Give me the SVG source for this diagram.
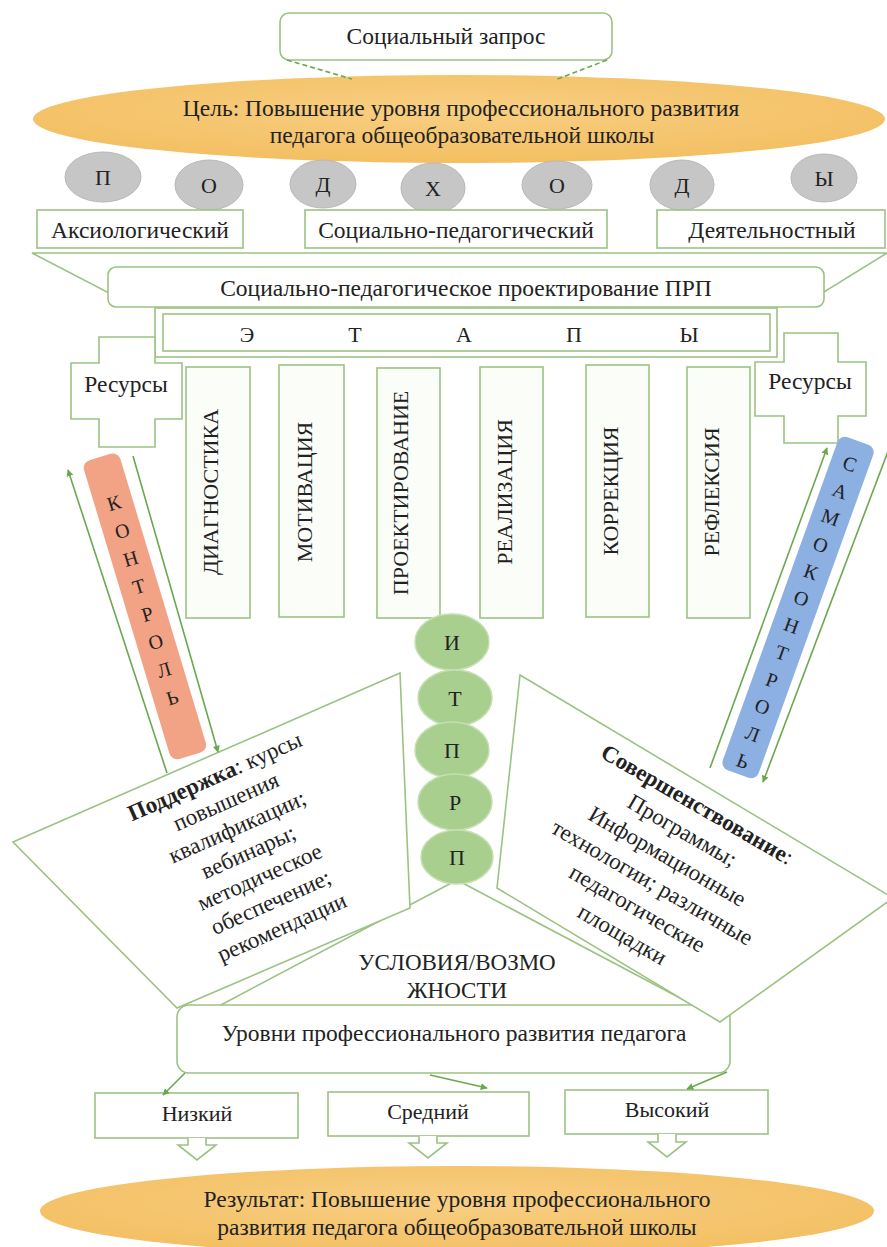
<svg xmlns="http://www.w3.org/2000/svg" width="887" height="1247" viewBox="0 0 887 1247" font-family="'Liberation Serif', 'Times New Roman', Tinos, 'DejaVu Serif', serif">
<defs>
<style>
text{font-family:"Liberation Serif","Times New Roman",Tinos,"DejaVu Serif",serif;font-size:23.5px;fill:#222222;}
.c{text-anchor:middle;}
.s22{font-size:22px;}
.q{font-size:23px;}
.box{fill:#ffffff;stroke:#9cc283;stroke-width:1.6;}
.stage{fill:#fbfdf8;stroke:#9cc283;stroke-width:1.6;}
.gray{fill:#c6c6c6;stroke:#b8b8b8;stroke-width:1;}
.green{fill:#a9cf8f;stroke:#c4dfb1;stroke-width:1.5;}
.ln{fill:none;stroke:#6aa84f;stroke-width:1.6;}
.dash{fill:none;stroke:#6aa84f;stroke-width:1.6;stroke-dasharray:5 3;}
.bl{font-size:20px;}
.b{font-weight:bold;}
</style>
<marker id="ah" viewBox="0 0 10 10" refX="9" refY="5" markerWidth="7" markerHeight="7" orient="auto" markerUnits="userSpaceOnUse">
<path d="M0,0 L10,5 L0,10 z" fill="#6aa84f"/>
</marker>
<radialGradient id="gold" cx="50%" cy="40%" r="60%">
<stop offset="0" stop-color="#f8cf83"/>
<stop offset="1" stop-color="#f3bf62"/>
</radialGradient>
</defs>

<g id="result">
<ellipse cx="457" cy="1211" rx="417" ry="45" fill="url(#gold)"/>
<text class="c" x="457" y="1207">Результат: Повышение уровня профессионального</text>
<text class="c" x="457" y="1235">развития педагога общеобразовательной школы</text>
</g>

<g id="goal">
<ellipse cx="459" cy="119" rx="426" ry="44" fill="url(#gold)"/>
<text class="c" x="461" y="116">Цель: Повышение уровня профессионального развития</text>
<text class="c" x="462" y="143">педагога общеобразовательной школы</text>
</g>

<g id="social-request">
<rect class="box" x="280" y="13" width="332" height="47" rx="9"/>
<text class="c" x="446" y="44">Социальный запрос</text>
</g>

<g id="approach-letters">
<ellipse class="gray" cx="103" cy="177" rx="38" ry="25"/><text class="c s22" x="103" y="185">П</text>
<ellipse class="gray" cx="209" cy="185" rx="34" ry="25"/><text class="c s22" x="209" y="193">О</text>
<ellipse class="gray" cx="323" cy="184" rx="33" ry="24"/><text class="c s22" x="323" y="192">Д</text>
<ellipse class="gray" cx="433" cy="188" rx="32" ry="25"/><text class="c s22" x="433" y="196">Х</text>
<ellipse class="gray" cx="557" cy="185" rx="35" ry="24"/><text class="c s22" x="557" y="193">О</text>
<ellipse class="gray" cx="682" cy="185" rx="32" ry="25"/><text class="c s22" x="682" y="193">Д</text>
<ellipse class="gray" cx="824" cy="178" rx="33" ry="24"/><text class="c s22" x="824" y="186">Ы</text>
</g>

<g id="bracket">
<polygon class="box" points="32,253 887,253 824,292 107,292"/>
</g>

<g id="approach-axio">
<rect class="box" x="37" y="210" width="206" height="38"/>
<text class="c" x="140" y="238">Аксиологический</text>
</g>
<g id="approach-social">
<rect class="box" x="305" y="210" width="302" height="38"/>
<text class="c" x="456" y="238">Социально-педагогический</text>
</g>
<g id="approach-activity">
<rect class="box" x="657" y="210" width="228" height="38"/>
<text class="c" x="772" y="238">Деятельностный</text>
</g>

<g id="design">
<rect class="box" x="108" y="267" width="716" height="40" rx="8"/>
<text class="c" x="466" y="296">Социально-педагогическое проектирование ПРП</text>
</g>

<g id="etapy">
<rect class="box" x="155" y="308" width="622" height="49"/>
<rect class="box" x="163" y="314" width="607" height="37"/>
<text class="c s22" x="247" y="342">Э</text>
<text class="c s22" x="355" y="342">Т</text>
<text class="c s22" x="464" y="342">А</text>
<text class="c s22" x="574" y="342">П</text>
<text class="c s22" x="689" y="342">Ы</text>
</g>

<g id="resources-left">
<path class="box" d="M99,337 H155 V363 H182 V419 H155 V447 H99 V419 H71 V363 H99 Z"/>
<text class="c" x="126" y="392">Ресурсы</text>
</g>
<g id="resources-right">
<path class="box" d="M784,333 H838 V362 H866 V416 H838 V443 H784 V416 H755 V362 H784 Z"/>
<text class="c" x="810" y="389">Ресурсы</text>
</g>

<g id="stage-diag">
<rect class="stage" x="186" y="367" width="64" height="251"/>
<text class="c s22" transform="translate(218,492) rotate(-90)">ДИАГНОСТИКА</text>
</g>
<g id="stage-motiv">
<rect class="stage" x="279" y="365" width="65" height="252"/>
<text class="c s22" transform="translate(312,492) rotate(-90)">МОТИВАЦИЯ</text>
</g>
<g id="stage-proj">
<rect class="stage" x="377" y="368" width="63" height="250"/>
<text class="c s22" transform="translate(408,493) rotate(-90)">ПРОЕКТИРОВАНИЕ</text>
</g>
<g id="stage-real">
<rect class="stage" x="480" y="367" width="63" height="251"/>
<text class="c s22" transform="translate(512,492) rotate(-90)">РЕАЛИЗАЦИЯ</text>
</g>
<g id="stage-corr">
<rect class="stage" x="586" y="365" width="63" height="252"/>
<text class="c s22" transform="translate(618,491) rotate(-90)">КОРРЕКЦИЯ</text>
</g>
<g id="stage-refl">
<rect class="stage" x="687" y="367" width="63" height="251"/>
<text class="c s22" transform="translate(719,492) rotate(-90)">РЕФЛЕКСИЯ</text>
</g>

<g id="control" transform="translate(100,457) rotate(-16.75)">
<rect x="-19" y="0" width="38" height="312" rx="8" fill="#f2a285"/>
<text class="c bl" x="0" y="55">К</text>
<text class="c bl" x="0" y="84">О</text>
<text class="c bl" x="0" y="113">Н</text>
<text class="c bl" x="0" y="142">Т</text>
<text class="c bl" x="0" y="171">Р</text>
<text class="c bl" x="0" y="200">О</text>
<text class="c bl" x="0" y="229">Л</text>
<text class="c bl" x="0" y="258">Ь</text>
</g>

<g id="self-control" transform="translate(858,441) rotate(19.8)">
<rect x="-19" y="0" width="38" height="354" rx="8" fill="#8db0e2"/>
<text class="c bl" x="0" y="31">С</text>
<text class="c bl" x="0" y="60">А</text>
<text class="c bl" x="0" y="88">М</text>
<text class="c bl" x="0" y="117">О</text>
<text class="c bl" x="0" y="146">К</text>
<text class="c bl" x="0" y="174">О</text>
<text class="c bl" x="0" y="203">Н</text>
<text class="c bl" x="0" y="232">Т</text>
<text class="c bl" x="0" y="261">Р</text>
<text class="c bl" x="0" y="289">О</text>
<text class="c bl" x="0" y="318">Л</text>
<text class="c bl" x="0" y="347">Ь</text>
</g>

<g id="conditions">
<polygon class="box" points="457,880 217,1007 697,1007"/>
<text class="c q" x="457" y="970">УСЛОВИЯ/ВОЗМО</text>
<text class="c q" x="457" y="998">ЖНОСТИ</text>
</g>

<g id="itprp">
<ellipse class="green" cx="452" cy="642" rx="37" ry="28"/><text class="c s22" x="452" y="650">И</text>
<ellipse class="green" cx="455" cy="698" rx="37" ry="28"/><text class="c s22" x="455" y="706">Т</text>
<ellipse class="green" cx="452" cy="750" rx="37" ry="28"/><text class="c s22" x="452" y="758">П</text>
<ellipse class="green" cx="455" cy="802" rx="37" ry="28"/><text class="c s22" x="455" y="810">Р</text>
<ellipse class="green" cx="457" cy="857" rx="36" ry="27"/><text class="c s22" x="457" y="865">П</text>
</g>

<g id="levels">
<rect class="box" x="177" y="1005" width="553" height="68" rx="12"/>
<text class="c" x="454" y="1041">Уровни профессионального развития педагога</text>
</g>

<g id="support">
<polygon class="box" points="13,842 400,673 410,908 177,1008"/>
<g transform="translate(215,777) rotate(-24)">
<text class="c q" x="0" y="7"><tspan class="b">Поддержка</tspan>: курсы</text>
<text class="c q" x="0" y="34.5">повышения</text>
<text class="c q" x="0" y="62">квалификации;</text>
<text class="c q" x="0" y="89.5">вебинары;</text>
<text class="c q" x="0" y="117">методическое</text>
<text class="c q" x="0" y="144.5">обеспечение;</text>
<text class="c q" x="0" y="172">рекомендации</text>
</g>
</g>

<g id="improvement">
<polygon class="box" points="520,675 893,898 720,1022 497,888"/>
<g transform="translate(697,805) rotate(30)">
<text class="c q" x="0" y="7"><tspan class="b">Совершенствование</tspan>:</text>
<text class="c q" x="0" y="37">Программы;</text>
<text class="c q" x="0" y="67">Информационные</text>
<text class="c q" x="0" y="97">технологии; различные</text>
<text class="c q" x="0" y="127">педагогические</text>
<text class="c q" x="0" y="157">площадки</text>
</g>
</g>

<g id="level-low">
<rect class="box" x="95" y="1093" width="203" height="45"/>
<text class="c s22" x="197" y="1121">Низкий</text>
<path class="box" d="M188,1138 V1145 H178 L197,1160 L216,1145 H206 V1138"/>
</g>
<g id="level-mid">
<rect class="box" x="328" y="1092" width="201" height="44"/>
<text class="c s22" x="428" y="1119">Средний</text>
<path class="box" d="M419,1136 V1143 H409 L428,1158 L447,1143 H437 V1136"/>
</g>
<g id="level-high">
<rect class="box" x="565" y="1090" width="203" height="44"/>
<text class="c s22" x="667" y="1117">Высокий</text>
<path class="box" d="M658,1134 V1142 H648 L667,1157 L686,1142 H676 V1134"/>
</g>

<g id="connectors">
<line class="dash" x1="287" y1="60" x2="352" y2="79"/>
<line class="dash" x1="607" y1="60" x2="555" y2="80"/>
<line class="ln" x1="167" y1="773" x2="68" y2="470" marker-end="url(#ah)"/>
<line class="ln" x1="133" y1="456" x2="218" y2="752" marker-end="url(#ah)"/>
<line class="ln" x1="710" y1="768" x2="827" y2="448" marker-end="url(#ah)"/>
<line class="ln" x1="890" y1="446" x2="763" y2="782" marker-end="url(#ah)"/>
<line class="ln" x1="185" y1="1073" x2="163" y2="1095" marker-end="url(#ah)"/>
<line class="ln" x1="430" y1="1075" x2="487" y2="1088" marker-end="url(#ah)"/>
<line class="ln" x1="727" y1="1072" x2="687" y2="1089" marker-end="url(#ah)"/>
</g>
</svg>
